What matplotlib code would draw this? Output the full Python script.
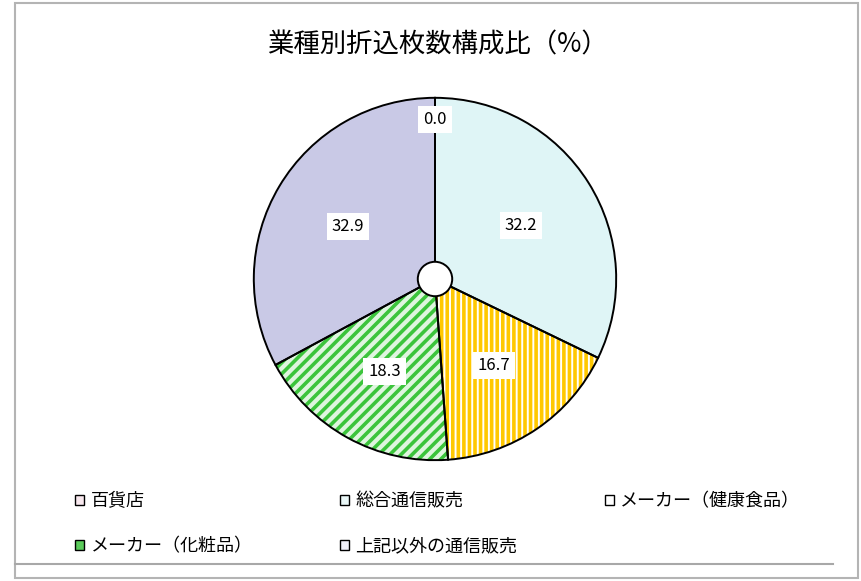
import matplotlib
matplotlib.use("Agg")
import numpy as np
import matplotlib.pyplot as plt
from matplotlib.patches import Wedge, Circle, Patch, Rectangle

plt.rcParams['font.family'] = ['Noto Sans CJK JP', 'DejaVu Sans']
plt.rcParams['hatch.linewidth'] = 2.6

# data
title = '業種別折込枚数構成比（%）'
categories = ['百貨店', '総合通信販売', 'メーカー（健康食品）', 'メーカー（化粧品）', '上記以外の通信販売']
shares = [0.0, 32.2, 16.7, 18.3, 32.9]

# styles
fills = ['#f6e4ec', '#dff5f6', '#ffffff', '#dff5df', '#c9c9e6']
legend_fills = ['#f8e8ee', '#eaf8f8', '#ffffff', '#5ccc5c', '#f0f0fa']
hatches = [None, None, '|||', '///', None]
hatch_colors = [None, None, '#ffc800', '#3cc43c', None]
label_dist = [0.88, 0.56, 0.58, 0.58, 0.56]

fig = plt.figure(figsize=(8.61, 5.81), dpi=100)
W, H = 861, 581

# outer frame
fig.add_artist(Rectangle((15 / W, 1 - 578 / H), (858 - 15) / W, (578 - 3) / H,
                         transform=fig.transFigure, fill=False,
                         edgecolor='#b4b4b4', linewidth=1.5))
fig.add_artist(plt.Line2D([15 / W, 833 / W], [1 - 564 / H, 1 - 564 / H],
                          transform=fig.transFigure, color='#a8a8a8', linewidth=1.5))

fig.text(437 / W, 1 - 45 / H, title, ha='center', va='center', fontsize=19)

cx, cy, r = 435, 279, 183
ax = fig.add_axes([(cx - r) / W, 1 - (cy + r) / H, 2 * r / W, 2 * r / H])

wedges, _ = ax.pie(shares, colors=fills, startangle=90, counterclock=False,
                   radius=1, wedgeprops=dict(linewidth=0))

for i, w in enumerate(wedges):
    if hatches[i]:
        ax.add_patch(Wedge(w.center, w.r, w.theta1, w.theta2, facecolor='none',
                           edgecolor=hatch_colors[i], linewidth=0, hatch=hatches[i], zorder=2))
    ax.add_patch(Wedge(w.center, w.r, w.theta1, w.theta2, fill=False,
                       edgecolor='black', linewidth=1.4, zorder=3))
    mid = np.deg2rad((w.theta1 + w.theta2) / 2)
    d = label_dist[i]
    ax.text(d * np.cos(mid), d * np.sin(mid), f'{shares[i]:.1f}', ha='center', va='center',
            fontsize=12, zorder=5,
            bbox=dict(boxstyle='square,pad=0.3', facecolor='white', edgecolor='none'))

ax.add_patch(Circle((0, 0), 0.095, facecolor='white', edgecolor='black', linewidth=1.4, zorder=4))
ax.set_xlim(-1.01, 1.01)
ax.set_ylim(-1.01, 1.01)
ax.set_aspect('equal')
ax.axis('off')

handles = [Patch(facecolor=legend_fills[i], edgecolor='black', linewidth=1.0)
           for i in range(len(categories))]
order = [0, 3, 1, 4, 2]
fig.legend([handles[i] for i in order], [categories[i] for i in order],
           loc='upper left', bbox_to_anchor=(59 / W, 1 - 476 / H), ncol=3,
           frameon=False, fontsize=13, handlelength=0.5, handleheight=0.5,
           handletextpad=0.35, columnspacing=4.85, labelspacing=1.5)

fig.savefig('out.png', dpi=100)
